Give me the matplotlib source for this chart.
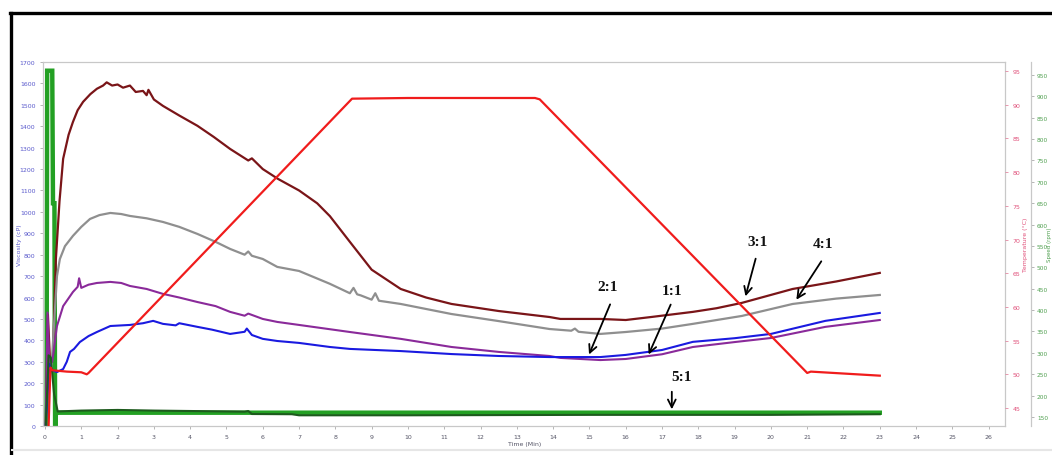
import matplotlib
matplotlib.use("Agg")
from matplotlib import pyplot as plt
from matplotlib.lines import Line2D

# ---------------------------------
# Data (time in minutes)

# 3:1 viscosity (cP) - dark red / brown curve
t_31 = [0.02, 0.08, 0.14, 0.22, 0.3, 0.4, 0.5, 0.65, 0.77, 0.9, 1.05, 1.25, 1.43, 1.6, 1.7,
        1.85, 2.0, 2.15, 2.34, 2.5, 2.7, 2.8, 2.85, 3.0, 3.25, 3.7, 4.2, 4.65, 5.1, 5.6, 5.7,
        6.0, 6.42, 7.0, 7.5, 7.85, 8.4, 9.0, 9.8, 10.5, 11.2, 12.5, 13.9, 14.2, 15.3, 16.0,
        16.7, 17.85, 18.5, 19.2, 20.6, 21.8, 23.0]
v_31 = [0, 520, 300, 330, 780, 1050, 1248, 1360, 1420, 1475, 1514, 1550, 1575, 1590, 1605,
        1590, 1595, 1580, 1590, 1560, 1565, 1545, 1570, 1525, 1495, 1450, 1402, 1350, 1294, 1240, 1250,
        1200, 1154, 1100, 1040, 980, 860, 730, 640, 600, 570, 537, 509, 500, 500, 495,
        509, 533, 550, 575, 640, 675, 715]

# 4:1 viscosity (cP) - grey curve
t_41 = [0.02, 0.1, 0.18, 0.33, 0.41, 0.55, 0.77, 1.0, 1.24, 1.5, 1.8, 2.1, 2.34, 2.8, 3.25,
        3.7, 4.2, 4.7, 5.1, 5.5, 5.6, 5.7, 6.0, 6.4, 7.0, 7.85, 8.4, 8.5, 8.6, 8.7, 9.0, 9.1,
        9.2, 9.8, 11.2, 12.5, 13.9, 14.5, 14.6, 14.7, 15.3, 16.0, 17.0, 17.85, 19.2, 20.6,
        21.8, 23.0]
v_41 = [0, 300, 280, 700, 780, 840, 888, 930, 967, 985, 995, 990, 981, 970, 953,
        930, 897, 860, 827, 800, 815, 795, 780, 743, 724, 664, 620, 645, 615, 610, 590, 620,
        585, 570, 523, 490, 453, 445, 455, 440, 430, 439, 455, 477, 514, 570,
        595, 612]

# 1:1 viscosity (cP) - purple curve
t_11 = [0.02, 0.07, 0.12, 0.2, 0.33, 0.5, 0.77, 0.9, 0.94, 1.0, 1.2, 1.43, 1.8, 2.1, 2.34,
        2.8, 3.25, 3.7, 4.2, 4.7, 5.1, 5.5, 5.6, 6.0, 6.4, 7.0, 8.4, 9.8, 11.2, 12.5, 13.9,
        14.2, 15.3, 16.0, 17.0, 17.85, 19.0, 20.0, 21.5, 23.0]
v_11 = [0, 530, 290, 300, 467, 560, 626, 650, 690, 645, 660, 668, 673, 668, 654,
        640, 617, 600, 579, 560, 533, 515, 525, 500, 486, 472, 439, 407, 369, 346, 327,
        318, 308, 313, 335, 369, 392, 411, 463, 495]

# 2:1 viscosity (cP) - blue curve
t_21 = [0.02, 0.12, 0.2, 0.33, 0.5, 0.6, 0.69, 0.8, 0.96, 1.2, 1.43, 1.8, 2.34, 2.7, 2.98,
        3.25, 3.6, 3.7, 4.2, 4.6, 5.1, 5.5, 5.56, 5.7, 6.0, 6.4, 7.0, 7.85, 8.4, 9.8, 11.2,
        12.5, 13.9, 15.3, 16.0, 17.0, 17.85, 19.0, 20.0, 21.5, 23.0]
v_21 = [0, 290, 260, 252, 266, 300, 346, 360, 392, 420, 439, 467, 472, 480, 491,
        477, 470, 480, 463, 450, 430, 440, 455, 425, 407, 397, 388, 369, 360, 350, 336,
        327, 322, 322, 332, 355, 393, 410, 430, 491, 528]

# 5:1 viscosity (cP) - dark green curve
t_51 = [0.02, 0.1, 0.16, 0.25, 0.35, 1.0, 2.0, 3.0, 4.0, 5.0, 5.5, 5.6, 5.7, 6.8, 7.0,
        10.0, 15.0, 20.0, 23.0]
v_51 = [0, 330, 320, 150, 68, 72, 75, 72, 70, 68, 67, 70, 56, 55, 50,
        50, 52, 52, 55]

# temperature profile (deg C)
t_temp = [0.1, 0.15, 0.2, 0.6, 1.0, 1.15, 1.2, 8.46, 10.0, 12.0, 13.5, 13.63, 21.0, 21.1, 23.0]
temp = [42.4, 51.0, 50.6, 50.4, 50.3, 50.0, 50.2, 90.9, 91.0, 91.0, 91.0, 90.8, 50.2, 50.4, 49.8]

# paddle speed (rpm)
t_speed = [0.0, 0.04, 0.06, 0.2, 0.22, 0.26, 0.28, 0.3, 0.35, 23.0]
speed = [0, 0, 960, 960, 650, 650, 100, 160, 160, 160]

# arrow labels: (text, text pos, arrow tail, arrow head) in (min, cP)
labels = [("2:1", (15.5, 650), (15.6, 580), (14.96, 322)),
          ("1:1", (17.27, 631), (17.27, 579), (16.6, 322)),
          ("3:1", (19.64, 864), (19.6, 794), (19.28, 593)),
          ("4:1", (21.43, 850), (21.43, 780), (20.66, 579)),
          ("5:1", (17.55, 229), (17.27, 173), (17.27, 65))]

# ---------------------------------
# Plotting
fig = plt.figure(figsize=(10.52, 4.56), dpi=100)
ax = fig.add_axes([43 / 1052, 29 / 456, (1005 - 43) / 1052, (427 - 63) / 456])
ax2 = ax.twinx()   # temperature
ax3 = ax.twinx()   # speed

# speed at the back, viscosity in the middle, temperature on top
ax3.set_zorder(0)
ax.set_zorder(1)
ax2.set_zorder(2)
ax.patch.set_visible(False)
ax2.patch.set_visible(False)

ax3.plot(t_speed, speed, color="#23a023", lw=3.2, solid_joinstyle="miter")

ax.plot(t_31, v_31, color="#7a1518", lw=1.6)
ax.plot(t_41, v_41, color="#8f8f8f", lw=1.6)
ax.plot(t_11, v_11, color="#8a2a9a", lw=1.5)
ax.plot(t_21, v_21, color="#1a1ae0", lw=1.5)
ax.plot(t_51, v_51, color="#1d5a1d", lw=1.5)

ax2.plot(t_temp, temp, color="#f01c1c", lw=1.6)

# ---------------------------------
# Formatting
ax.set_xlim(-0.055, 26.45)
ax.set_ylim(0, 1700)
ax2.set_ylim(42.33, 96.34)
ax3.set_ylim(128.9, 980.4)

ax.set_xticks(range(0, 27))
ax.set_yticks(range(0, 1701, 100))
ax2.set_yticks(range(45, 96, 5))
ax3.set_yticks(range(150, 951, 50))

spine_col = "#c8c8c8"
for s in ax.spines.values():
    s.set_color(spine_col)
    s.set_linewidth(0.9)
for s in ax2.spines.values():
    s.set_visible(False)
for name, s in ax3.spines.items():
    s.set_visible(name == "right")
ax3.spines["right"].set_position(("outward", 19))
ax3.spines["right"].set_color(spine_col)
ax3.spines["right"].set_linewidth(0.9)

ax.tick_params(axis="x", labelsize=4.5, colors="#999999", labelcolor="#555566", length=2.5, width=0.5, pad=3)
ax.tick_params(axis="y", labelsize=4.5, colors="#999999", labelcolor="#5a5acc", length=2.5, width=0.5, pad=3)
ax2.tick_params(axis="y", labelsize=4.5, colors="#e07090", labelcolor="#e0507a", length=2.5, width=0.5, pad=3)
ax3.tick_params(axis="y", labelsize=4.2, colors="#999999", labelcolor="#50a050", length=2.5, width=0.5, pad=1.5)

fig.text(20 / 1052, 1 - 245 / 456, "Viscosity (cP)", rotation=90, color="#5a5acc",
         fontsize=4.5, ha="center", va="center")
fig.text(1025 / 1052, 1 - 245 / 456, "Temperature (°C)", rotation=90, color="#e0507a",
         fontsize=4.5, ha="center", va="center")
fig.text(1049.5 / 1052, 1 - 245 / 456, "Speed (rpm)", rotation=90, color="#50a050",
         fontsize=4, ha="center", va="center")
fig.text(525 / 1052, 1 - 445 / 456, "Time (Min)", color="#555566",
         fontsize=4.5, ha="center", va="center")

for text, pos, tail, head in labels:
    ax.text(pos[0], pos[1], text, fontsize=11, family="Liberation Serif", fontweight="bold",
            ha="center", va="center", color="#111111", zorder=10)
    ax.annotate("", xy=head, xytext=tail, zorder=10,
                arrowprops=dict(arrowstyle="->", color="black", lw=1.3, mutation_scale=14))

# black frame around the picture (top and left edges only visible)
fig.add_artist(Line2D([11 / 1052, 11 / 1052], [0, 1 - 14 / 456], color="black", lw=2.4,
                      transform=fig.transFigure))
fig.add_artist(Line2D([10 / 1052, 1], [1 - 14 / 456, 1 - 14 / 456], color="black", lw=2.4,
                      transform=fig.transFigure))
fig.add_artist(Line2D([12 / 1052, 1], [1 - 451 / 456, 1 - 451 / 456], color="#e6e6e6", lw=1.5,
                      transform=fig.transFigure))

fig.savefig("out.png", dpi=100)
